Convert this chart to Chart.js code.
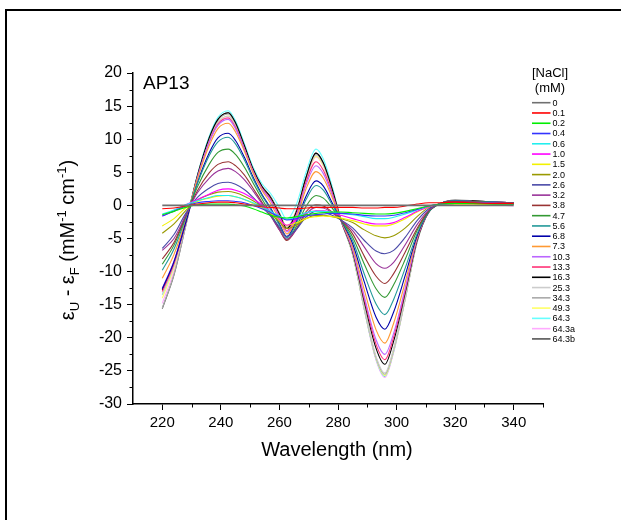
<!DOCTYPE html>
<html>
<head>
<meta charset="utf-8">
<script src="https://cdn.jsdelivr.net/npm/chart.js@4.4.1/dist/chart.umd.min.js"></script>
<style>
  html, body { margin: 0; padding: 0; background: #fff; }
  #wrap { position: relative; width: 621px; height: 520px; }
</style>
</head>
<body>
<div id="wrap"><canvas id="cd" width="621" height="520"></canvas></div>
<script>
// CD difference spectra of AP13, titrated with NaCl

const wavelengths = [220, 224, 228, 232, 236, 239, 242.5, 245, 248, 251, 254, 257, 260, 262.5, 266, 269, 272.5, 275, 278, 281, 285, 289, 293, 296, 299, 303, 307, 311, 315, 320, 326, 333, 340];

const concLabels = ["0", "0.1", "0.2", "0.4", "0.6", "1.0", "1.5", "2.0", "2.6", "3.2", "3.8", "4.7", "5.6", "6.8", "7.3", "10.3", "13.3", "16.3", "25.3", "34.3", "49.3", "64.3", "64.3a", "64.3b"];

const nacl_0    = [0,0,0,0,0,0,0,0,0,0,0,0,0,0,0,0,0,0,0,0,0,0,0,0,0,0,0,0,0,0,0,0,0];
const nacl_0_1  = [-0.5,-0.4,-0.1,0.2,0.4,0.5,0.5,0.4,0.2,0,-0.2,-0.3,-0.4,-0.5,-0.5,-0.4,-0.3,-0.3,-0.3,-0.3,-0.3,-0.4,-0.4,-0.3,-0.3,-0.1,0.2,0.4,0.4,0.5,0.4,0.3,0.3];
const nacl_0_2  = [-1.4,-0.9,-0.3,0.1,0.2,0.2,0.2,0.1,-0.1,-0.5,-1.0,-1.5,-1.8,-1.9,-1.7,-1.4,-1.2,-1.1,-1.0,-1.0,-1.1,-1.2,-1.3,-1.3,-1.2,-0.9,-0.5,-0.1,0.2,0.3,0.3,0.2,0.2];
const nacl_0_4  = [-1.6,-0.9,-0.1,0.4,0.6,0.7,0.7,0.6,0.4,0,-0.5,-1.1,-1.7,-2.2,-2.0,-1.6,-1.4,-1.3,-1.2,-1.2,-1.3,-1.5,-1.6,-1.6,-1.5,-1.1,-0.6,-0.1,0.2,0.3,0.3,0.3,0.2];
const nacl_0_6  = [-1.3,-0.7,0.1,0.7,1.2,1.5,1.5,1.3,0.9,0.4,-0.2,-0.9,-1.6,-2.1,-1.7,-1.1,-0.9,-0.9,-1.0,-1.2,-1.4,-1.7,-2.0,-2.0,-1.8,-1.3,-0.7,-0.1,0.2,0.3,0.3,0.3,0.2];
const nacl_1_0  = [-1.6,-0.8,0.1,0.9,1.7,2.3,2.5,2.3,1.8,1.0,0.1,-0.9,-2.1,-3.0,-2.1,-1.2,-0.8,-0.8,-1.1,-1.5,-2.0,-2.5,-2.8,-2.8,-2.6,-1.8,-0.9,-0.2,0.2,0.3,0.3,0.3,0.2];
const nacl_1_5  = [-3.1,-2.0,-0.4,0.6,1.1,1.4,1.5,1.3,0.9,0.3,-0.4,-1.2,-2.2,-3.0,-2.6,-2.0,-1.7,-1.6,-1.7,-1.9,-2.3,-2.8,-3.1,-3.1,-2.8,-2.0,-1.0,-0.2,0.1,0.2,0.2,0.1,0.1];
const nacl_2_0  = [-4.2,-2.8,-0.8,0.8,1.6,2.0,2.1,1.9,1.4,0.7,-0.2,-1.2,-2.5,-3.5,-2.9,-2.0,-1.5,-1.5,-1.7,-2.0,-2.6,-3.7,-4.6,-4.9,-4.6,-3.4,-1.7,-0.3,0.2,0.3,0.3,0.2,0.2];
const nacl_2_6  = [-6.5,-4.4,-1.2,1.2,2.6,3.3,3.5,3.2,2.4,1.2,-0.2,-1.6,-3.3,-4.7,-3.5,-1.8,-0.9,-1.0,-1.5,-2.2,-3.4,-5.3,-6.9,-7.3,-6.8,-4.8,-2.3,-0.5,0.2,0.4,0.4,0.3,0.3];
const nacl_3_2  = [-6.8,-5.0,-1.5,1.9,4.1,5.2,5.6,5.1,3.9,2.2,0.3,-1.6,-3.7,-5.1,-3.5,-1.4,-0.3,-0.4,-1.1,-2.2,-3.8,-6.3,-8.8,-9.5,-8.6,-5.9,-2.9,-0.7,0.3,0.5,0.5,0.4,0.3];
const nacl_3_8  = [-8.1,-5.6,-1.6,2.2,4.9,6.2,6.6,6.0,4.6,2.6,0.5,-1.5,-3.7,-5.3,-3.4,-1.0,0.1,-0.1,-1.0,-2.2,-4.3,-7.7,-10.7,-11.8,-10.3,-7.0,-3.5,-0.8,0.3,0.6,0.5,0.4,0.3];
const nacl_4_7  = [-8.9,-6.0,-1.7,2.8,6.2,8.0,8.5,7.7,5.8,3.4,1.0,-1.2,-3.5,-5.2,-3.0,-0.2,1.5,1.1,-0.4,-2.2,-4.8,-8.9,-12.6,-13.9,-12.0,-8.1,-3.8,-0.9,0.3,0.6,0.6,0.4,0.3];
const nacl_5_6  = [-9.8,-6.6,-1.9,3.3,7.5,9.6,10.3,9.3,6.9,4.0,1.5,-0.6,-3.0,-4.9,-2.5,0.8,3.0,2.3,0.1,-2.2,-5.3,-10.4,-14.9,-16.5,-14.2,-9.4,-4.3,-1.0,0.3,0.7,0.6,0.5,0.4];
const nacl_6_8  = [-12.6,-8.5,-2.6,3.4,7.9,10.2,10.9,9.8,7.3,4.3,1.7,-0.4,-2.8,-4.7,-2.2,1.3,3.7,2.9,0.4,-2.2,-5.8,-11.6,-16.9,-18.7,-16.1,-10.5,-4.6,-1.0,0.3,0.7,0.6,0.5,0.4];
const nacl_7_3  = [-11.0,-7.4,-2.2,4.0,9.0,11.6,12.4,11.1,8.2,4.9,2.3,0.3,-2.2,-4.3,-1.7,2.4,5.1,4.1,1.2,-2.2,-6.3,-12.8,-18.8,-20.8,-17.8,-11.5,-4.8,-1.0,0.3,0.7,0.6,0.5,0.4];
const nacl_10_3 = [-12.5,-8.4,-2.5,4.2,9.5,12.1,13.0,11.6,8.5,5.1,2.5,0.7,-1.8,-4.0,-1.3,3.0,6.0,4.8,1.6,-2.2,-6.7,-13.8,-20.3,-22.5,-19.3,-12.4,-5.0,-1.0,0.3,0.7,0.6,0.5,0.4];
const nacl_13_3 = [-13.0,-8.8,-2.6,4.2,9.6,12.3,13.2,11.8,8.6,5.2,2.6,0.9,-1.6,-3.8,-1.1,3.4,6.6,5.3,1.9,-2.2,-6.8,-14.2,-21.0,-23.3,-19.9,-12.8,-5.1,-1.0,0.3,0.7,0.6,0.5,0.4];
const nacl_16_3 = [-12.8,-8.6,-2.6,4.5,10.2,13.0,14.0,12.5,9.1,5.5,2.9,1.2,-1.3,-3.5,-0.7,4.1,7.9,6.4,2.5,-2.2,-7.0,-14.6,-21.6,-24.0,-20.5,-13.1,-5.3,-1.0,0.3,0.7,0.7,0.5,0.4];
const nacl_25_3 = [-13.5,-9.1,-2.7,4.3,9.8,12.5,13.5,12.1,8.8,5.3,2.8,1.2,-1.2,-3.3,-0.6,4.0,7.6,6.2,2.4,-2.2,-7.3,-15.4,-22.8,-25.3,-21.6,-13.8,-5.4,-1.0,0.3,0.7,0.7,0.5,0.4];
const nacl_34_3 = [-15.5,-10.4,-3.1,4.4,10.0,12.8,13.8,12.3,9.0,5.4,2.9,1.2,-1.3,-3.4,-0.6,4.0,7.7,6.3,2.4,-2.2,-7.3,-15.5,-23.0,-25.5,-21.8,-13.9,-5.5,-1.0,0.3,0.7,0.7,0.5,0.4];
const nacl_49_3 = [-14.0,-9.4,-2.8,4.3,9.8,12.5,13.5,12.1,8.8,5.3,2.8,1.2,-1.2,-3.2,-0.6,3.9,7.4,6.0,2.3,-2.2,-7.4,-15.6,-23.1,-25.7,-21.9,-14.0,-5.5,-1.0,0.2,0.5,0.4,0.3,0.2];
const nacl_64_3 = [-13.5,-9.1,-2.7,4.6,10.4,13.3,14.3,12.8,9.4,5.8,3.3,1.8,-0.3,-2.1,0.4,4.9,8.5,7.0,2.9,-2.2,-7.4,-15.7,-23.2,-25.8,-22.0,-14.0,-5.5,-1.0,0.2,0.6,0.5,0.4,0.3];
const nacl_64_3a = [-14.8,-9.9,-3.0,4.2,9.7,12.4,13.3,11.9,8.7,5.2,2.7,1.1,-1.3,-3.5,-0.8,3.7,7.3,5.9,2.2,-2.2,-7.4,-15.8,-23.4,-26.0,-22.2,-14.1,-5.5,-1.0,0.2,0.5,0.3,0.1,-0.1];
const nacl_64_3b = [-15.6,-10.5,-3.1,4.5,10.2,13.0,14.0,12.5,9.1,5.5,2.9,1.3,-1.2,-3.3,-0.6,4.1,7.9,6.4,2.5,-2.2,-7.4,-15.7,-23.2,-25.8,-22.0,-14.0,-5.5,-1.0,0.3,0.8,0.7,0.5,0.4];

const spectra = [nacl_0, nacl_0_1, nacl_0_2, nacl_0_4, nacl_0_6, nacl_1_0, nacl_1_5, nacl_2_0, nacl_2_6, nacl_3_2, nacl_3_8, nacl_4_7, nacl_5_6, nacl_6_8, nacl_7_3, nacl_10_3, nacl_13_3, nacl_16_3, nacl_25_3, nacl_34_3, nacl_49_3, nacl_64_3, nacl_64_3a, nacl_64_3b];

const xTicks = [220, 240, 260, 280, 300, 320, 340];
const xMinor = [230, 250, 270, 290, 310, 330, 350];
const yTicks = [-30, -25, -20, -15, -10, -5, 0, 5, 10, 15, 20];
const yMinor = [-27.5, -22.5, -17.5, -12.5, -7.5, -2.5, 2.5, 7.5, 12.5, 17.5];

const colors = ["#707070", "#ff0000", "#00ee00", "#3333ff", "#22eeee", "#ff00ff", "#f2f200", "#999900",
  "#4a4aa8", "#993399", "#993333", "#339933", "#229999", "#0000aa", "#ff9933", "#bb66ff",
  "#ff3377", "#000000", "#cccccc", "#aaaaaa", "#ffff66", "#66ffff", "#ffaaff", "#555555"];

const FONT = "'Liberation Sans', Arial, sans-serif";

const datasets = spectra.map((vals, i) => ({
  label: concLabels[i],
  data: vals.map((v, j) => ({ x: wavelengths[j], y: v })),
  borderColor: colors[i],
  borderWidth: i === 0 ? 1.6 : 1.1,
  pointRadius: 0,
  fill: false,
  cubicInterpolationMode: 'monotone'
}));

// frame, minor ticks, axis titles, panel label and legend
const decor = {
  id: 'decor',
  beforeDraw(chart) {
    const ctx = chart.ctx;
    ctx.save();
    ctx.fillStyle = '#fff';
    ctx.fillRect(0, 0, chart.width, chart.height);
    ctx.fillStyle = '#000';
    ctx.fillRect(5, 9, chart.width - 5, 2);
    ctx.fillRect(5, 9, 2, chart.height - 9);
    ctx.restore();
  },
  afterDraw(chart) {
    const ctx = chart.ctx;
    const xs = chart.scales.x, ys = chart.scales.y, ca = chart.chartArea;
    ctx.save();
    ctx.strokeStyle = '#000';
    ctx.lineWidth = 1;
    ctx.beginPath();
    yMinor.forEach(v => {
      const p = Math.round(ys.getPixelForValue(v)) + 0.5;
      ctx.moveTo(ca.left - 3.5, p); ctx.lineTo(ca.left, p);
    });
    xMinor.forEach(v => {
      const p = Math.round(xs.getPixelForValue(v)) + 0.5;
      ctx.moveTo(p, ca.bottom); ctx.lineTo(p, ca.bottom + 3.5);
    });
    ctx.stroke();

    ctx.fillStyle = '#000';
    // panel label
    ctx.font = '19px ' + FONT;
    ctx.textBaseline = 'alphabetic';
    ctx.textAlign = 'left';
    ctx.fillText('AP13', 143, 89);

    // x title
    ctx.font = '20px ' + FONT;
    ctx.textAlign = 'center';
    ctx.fillText('Wavelength (nm)', 337, 456);

    // y title with sub/superscripts
    const parts = [
      ['\u03b5', 0, 20], ['U', 5, 13], [' - ', 0, 20], ['\u03b5', 0, 20], ['F', 5, 13],
      [' (mM', 0, 20], ['-1', -8, 13], [' cm', 0, 20], ['-1', -8, 13], [')', 0, 20]
    ];
    let total = 0;
    parts.forEach(p => { ctx.font = p[2] + 'px ' + FONT; total += ctx.measureText(p[0]).width; });
    ctx.translate(74, 240);
    ctx.rotate(-Math.PI / 2);
    ctx.textAlign = 'left';
    let cx = -total / 2;
    parts.forEach(p => {
      ctx.font = p[2] + 'px ' + FONT;
      ctx.fillText(p[0], cx, p[1]);
      cx += ctx.measureText(p[0]).width;
    });
    ctx.setTransform(1, 0, 0, 1, 0, 0);

    // legend
    ctx.font = '13px ' + FONT;
    ctx.textAlign = 'center';
    ctx.fillText('[NaCl]', 550, 77);
    ctx.fillText('(mM)', 550, 92);
    ctx.font = '9px ' + FONT;
    ctx.textAlign = 'left';
    ctx.textBaseline = 'middle';
    chart.data.datasets.forEach((ds, i) => {
      const y = 102.7 + i * 10.27;
      ctx.strokeStyle = ds.borderColor;
      ctx.lineWidth = 1.6;
      ctx.beginPath();
      ctx.moveTo(532, y); ctx.lineTo(550.5, y);
      ctx.stroke();
      ctx.fillStyle = '#000';
      ctx.fillText(ds.label, 552.5, y + 0.5);
    });
    ctx.restore();
  }
};

new Chart(document.getElementById('cd').getContext('2d'), {
  type: 'line',
  data: { datasets },
  options: {
    responsive: false,
    animation: false,
    layout: { padding: { left: 0, top: 73, right: 78, bottom: 66 } },
    plugins: { legend: { display: false }, tooltip: { enabled: false } },
    scales: {
      x: {
        type: 'linear',
        min: 210, max: 350,
        afterFit: s => { s.height = 50; },
        afterBuildTicks: s => { s.ticks = xTicks.map(v => ({ value: v })); },
        border: { display: true, color: '#000', width: 1.5 },
        grid: { drawOnChartArea: false, drawTicks: true, tickLength: 6, color: '#000', lineWidth: 1 },
        ticks: { color: '#000', font: { family: FONT, size: 15 }, padding: 4, maxRotation: 0 }
      },
      y: {
        min: -30, max: 20,
        afterFit: s => { s.width = 133; },
        afterBuildTicks: s => { s.ticks = yTicks.map(v => ({ value: v })); },
        border: { display: true, color: '#000', width: 1.5 },
        grid: { drawOnChartArea: false, drawTicks: true, tickLength: 6, color: '#000', lineWidth: 1 },
        ticks: { color: '#000', font: { family: FONT, size: 16 }, padding: 5 }
      }
    }
  },
  plugins: [decor]
});
</script>
</body>
</html>
